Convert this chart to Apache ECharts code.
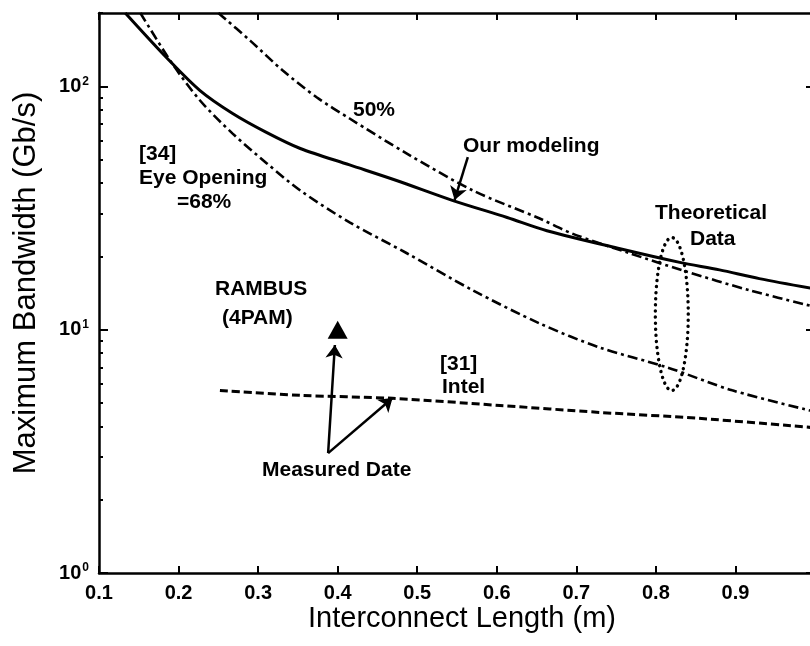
<!DOCTYPE html>
<html>
<head>
<meta charset="utf-8">
<script src="https://cdn.jsdelivr.net/npm/echarts@6/dist/echarts.min.js"></script>
<style>html,body{margin:0;padding:0;background:#fff;}#c{width:810px;height:646px;}</style>
</head>
<body>
<div id="c"></div>
<script>
// ---- data ----
const xTickValues = [0.1, 0.2, 0.3, 0.4, 0.5, 0.6, 0.7, 0.8, 0.9, 1.0];
const yMajorTicks = [1, 10, 100];
const yMinorTicks = [2, 3, 4, 5, 6, 7, 8, 9, 20, 30, 40, 50, 60, 70, 80, 90, 200];

const ourModelingX = [0.133, 0.185, 0.227, 0.268, 0.311, 0.353, 0.415, 0.474, 0.545, 0.613, 0.663, 0.755, 0.830, 0.880, 0.930, 1.0];
const ourModelingY = [200, 131, 96, 77.3, 64.5, 55.5, 47.5, 41.0, 33.9, 28.9, 25.5, 21.5, 18.9, 17.6, 16.2, 14.7];

const eye50X = [0.250, 0.290, 0.331, 0.374, 0.415, 0.487, 0.570, 0.654, 0.695, 0.767, 0.834, 0.918, 1.0];
const eye50Y = [200, 154, 116, 89.9, 73.7, 52.9, 37.3, 28.6, 24.8, 20.6, 17.5, 14.5, 12.4];

const eye68X = [0.152, 0.192, 0.227, 0.268, 0.311, 0.353, 0.415, 0.487, 0.570, 0.654, 0.729, 0.814, 0.896, 1.0];
const eye68Y = [200, 124, 87.4, 63.9, 48.2, 37.3, 27.6, 20.6, 14.5, 10.6, 8.45, 7.0, 5.63, 4.6];

const intelX = [0.252, 0.353, 0.469, 0.604, 0.729, 0.854, 1.0];
const intelY = [5.62, 5.37, 5.22, 4.88, 4.57, 4.32, 3.95];

const rambusPoint = [0.4, 10];

// ellipse "Theoretical Data": [centre x, top y, bottom y, half-width in x]
const theoryEllipse = [0.82, 23.9, 5.62, 0.0207];

// arrows: [x1, y1, x2, y2]
const arrowModeling = [0.5636, 51.2, 0.547, 34.1];
const arrowMeasured1 = [0.388, 3.11, 0.3965, 8.65];
const arrowMeasured2 = [0.388, 3.11, 0.469, 5.24];

function pairs(xs, ys) { return xs.map((x, i) => [x, ys[i]]); }

const chart = echarts.init(document.getElementById('c'), null, { renderer: 'canvas' });

const FAM = '"Liberation Sans", Arial, sans-serif';
const tickFont = { fontFamily: FAM, fontWeight: 'bold', color: '#000' };
const annFont = 'bold 21px ' + FAM;

function yLabel(v) {
  const e = Math.round(Math.log10(v));
  if (Math.abs(Math.pow(10, e) - v) > 1e-6) return '';
  return '{b|10}{s|' + e + '}';
}

function baseY(pos, opts) {
  return Object.assign({
    type: 'log', logBase: 10, min: 1, max: 200, position: pos, gridIndex: 0,
    splitLine: { show: false },
    axisLine: { show: true, lineStyle: { color: '#000', width: 2.5 } },
    axisLabel: { show: false },
    axisTick: { show: true, inside: true, length: 9, lineStyle: { color: '#000', width: 2 }, customValues: yMajorTicks }
  }, opts);
}

const option = {
  backgroundColor: '#fff',
  animation: false,
  grid: { left: 99, top: 13, width: 716, height: 560, containLabel: false, outerBoundsMode: 'none' },
  xAxis: [
    {
      type: 'value', min: 0.1, max: 1.0, interval: 0.1, position: 'bottom',
      splitLine: { show: false },
      axisLine: { show: true, onZero: false, lineStyle: { color: '#000', width: 2.5 } },
      axisTick: { show: true, inside: true, length: 7, lineStyle: { color: '#000', width: 2 } },
      axisLabel: Object.assign({ fontSize: 20, margin: 10, formatter: v => (Math.abs(v - 1) < 1e-9 ? '1' : v.toFixed(1)) }, tickFont)
    },
    {
      type: 'value', min: 0.1, max: 1.0, interval: 0.1, position: 'top',
      splitLine: { show: false },
      axisLine: { show: true, onZero: false, lineStyle: { color: '#000', width: 2.5 } },
      axisTick: { show: true, inside: true, length: 7, lineStyle: { color: '#000', width: 2 } },
      axisLabel: { show: false }
    }
  ],
  yAxis: [
    baseY('left', {
      axisLabel: {
        show: true, margin: 10, customValues: yMajorTicks, formatter: yLabel,
        rich: {
          b: Object.assign({ fontSize: 20, lineHeight: 22 }, tickFont),
          s: Object.assign({ fontSize: 12, verticalAlign: 'top', lineHeight: 22, padding: [0, 0, 9, 1] }, tickFont)
        }
      }
    }),
    baseY('left', {
      axisLine: { show: false },
      axisTick: { show: true, inside: true, length: 4, lineStyle: { color: '#000', width: 2 }, customValues: yMinorTicks }
    }),
    baseY('right', {}),
    baseY('right', {
      axisLine: { show: false },
      axisTick: { show: true, inside: true, length: 4, lineStyle: { color: '#000', width: 2 }, customValues: yMinorTicks }
    })
  ],
  series: [
    {
      name: 'Our modeling', type: 'line', data: pairs(ourModelingX, ourModelingY), smooth: 0.3,
      showSymbol: false, clip: true, lineStyle: { color: '#000', width: 3 }
    },
    {
      name: '50%', type: 'line', data: pairs(eye50X, eye50Y), smooth: 0.3,
      showSymbol: false, clip: true, lineStyle: { color: '#000', width: 2.6, type: [10, 4, 3, 4] }
    },
    {
      name: '68%', type: 'line', data: pairs(eye68X, eye68Y), smooth: 0.3,
      showSymbol: false, clip: true, lineStyle: { color: '#000', width: 2.6, type: [10, 4, 3, 4] }
    },
    {
      name: 'Intel', type: 'line', data: pairs(intelX, intelY), smooth: 0.3,
      showSymbol: false, clip: true, lineStyle: { color: '#000', width: 3, type: [8, 4] }
    },
    {
      name: 'RAMBUS', type: 'scatter', data: [rambusPoint], symbol: 'triangle', symbolSize: [20, 18],
      itemStyle: { color: '#000', opacity: 1 }
    },
    {
      name: 'Theoretical Data', type: 'custom', data: [theoryEllipse],
      renderItem: function (params, api) {
        const cx = api.value(0), yt = api.value(1), yb = api.value(2), hw = api.value(3);
        const pTop = api.coord([cx, yt]);
        const pBot = api.coord([cx, yb]);
        const pSide = api.coord([cx + hw, yt]);
        const ccx = pTop[0], ccy = (pTop[1] + pBot[1]) / 2;
        const rx = pSide[0] - pTop[0], ry = (pBot[1] - pTop[1]) / 2;
        const pts = [];
        for (let i = 0; i <= 120; i++) {
          const t = i / 120 * Math.PI * 2;
          pts.push([ccx + rx * Math.cos(t), ccy + ry * Math.sin(t)]);
        }
        return {
          type: 'polyline', shape: { points: pts },
          style: { fill: null, stroke: '#000', lineWidth: 3.4, lineDash: [0.1, 6], lineCap: 'round' }
        };
      }
    },
    {
      name: 'arrows', type: 'lines', coordinateSystem: 'cartesian2d',
      symbol: ['none', 'arrow'], symbolSize: 13,
      lineStyle: { color: '#000', width: 2.5, opacity: 1 },
      data: [arrowModeling, arrowMeasured1, arrowMeasured2].map(a => ({ coords: [[a[0], a[1]], [a[2], a[3]]] }))
    }
  ],
  graphic: [
    { type: 'text', x: 26, y: 283, rotation: Math.PI / 2,
      style: { text: 'Maximum Bandwidth (Gb/s)', font: '31px ' + FAM, fill: '#000', align: 'center', verticalAlign: 'middle' } },
    { type: 'text', x: 462, y: 619,
      style: { text: 'Interconnect Length (m)', font: '29px ' + FAM, fill: '#000', align: 'center', verticalAlign: 'middle' } },
    { type: 'text', left: 353, top: 100, style: { text: '50%', font: annFont, fill: '#000' } },
    { type: 'text', left: 463, top: 136, style: { text: 'Our modeling', font: annFont, fill: '#000' } },
    { type: 'text', left: 139, top: 144, style: { text: '[34]', font: annFont, fill: '#000' } },
    { type: 'text', left: 139, top: 168, style: { text: 'Eye Opening', font: annFont, fill: '#000' } },
    { type: 'text', left: 177, top: 192, style: { text: '=68%', font: annFont, fill: '#000' } },
    { type: 'text', left: 655, top: 203, style: { text: 'Theoretical', font: annFont, fill: '#000' } },
    { type: 'text', left: 690, top: 229, style: { text: 'Data', font: annFont, fill: '#000' } },
    { type: 'text', left: 215, top: 279, style: { text: 'RAMBUS', font: annFont, fill: '#000' } },
    { type: 'text', left: 222, top: 308, style: { text: '(4PAM)', font: annFont, fill: '#000' } },
    { type: 'text', left: 440, top: 354, style: { text: '[31]', font: annFont, fill: '#000' } },
    { type: 'text', left: 442, top: 377, style: { text: 'Intel', font: annFont, fill: '#000' } },
    { type: 'text', left: 262, top: 460, style: { text: 'Measured Date', font: annFont, fill: '#000' } }
  ]
};

chart.setOption(option);
</script>
</body>
</html>
